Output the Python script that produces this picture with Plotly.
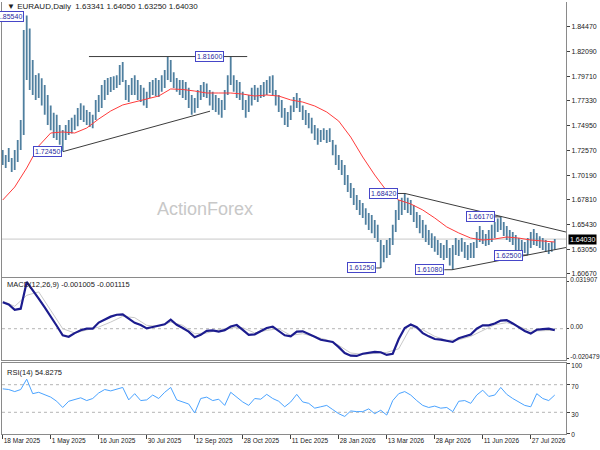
import plotly.graph_objects as go

# EURAUD daily, one entry per pair of sessions (high / low)
bar_high = [1.7260, 1.7212, 1.7280, 1.7183, 1.7260, 1.7357, 1.7549, 1.8415, 1.8554, 1.8430,
            1.8127, 1.7982, 1.8000, 1.7950, 1.7886, 1.7790, 1.7690, 1.7620, 1.7600, 1.7500,
            1.7453, 1.7500, 1.7549, 1.7570, 1.7600, 1.7665, 1.7710, 1.7690, 1.7645, 1.7626,
            1.7600, 1.7742, 1.7790, 1.7886, 1.7934, 1.7953, 1.7963, 1.7970, 1.7980, 1.8078,
            1.8107, 1.7934, 1.7886, 1.7953, 1.7980, 1.7934, 1.7886, 1.7860, 1.7820, 1.7915,
            1.7934, 1.7953, 1.7934, 1.7980, 1.8030, 1.8160, 1.8127, 1.8010, 1.7953, 1.7934,
            1.7934, 1.7915, 1.7860, 1.7790, 1.7760, 1.7838, 1.7886, 1.7915, 1.7900, 1.7838,
            1.7820, 1.7790, 1.7760, 1.7742, 1.7838, 1.7980, 1.8160, 1.7980, 1.7934, 1.7915,
            1.7820, 1.7742, 1.7790, 1.7860, 1.7886, 1.7860, 1.7886, 1.7915, 1.7934, 1.7970,
            1.7980, 1.7838, 1.7790, 1.7742, 1.7665, 1.7626, 1.7690, 1.7770, 1.7810, 1.7760,
            1.7690, 1.7645, 1.7616, 1.7570, 1.7500, 1.7470, 1.7453, 1.7470, 1.7453, 1.7470,
            1.7357, 1.7310, 1.7212, 1.7164, 1.7116, 1.7020, 1.6943, 1.6895, 1.6827, 1.6779,
            1.6750, 1.6700, 1.6654, 1.6635, 1.6587, 1.6540, 1.6394, 1.6346, 1.6394, 1.6413,
            1.6540, 1.6683, 1.6779, 1.6800, 1.6842, 1.6800, 1.6779, 1.6730, 1.6664, 1.6635,
            1.6587, 1.6540, 1.6490, 1.6460, 1.6430, 1.6394, 1.6365, 1.6346, 1.6394, 1.6317,
            1.6346, 1.6413, 1.6394, 1.6413, 1.6375, 1.6346, 1.6365, 1.6375, 1.6471, 1.6530,
            1.6490, 1.6452, 1.6490, 1.6540, 1.6568, 1.6600, 1.6617, 1.6568, 1.6530, 1.6490,
            1.6471, 1.6442, 1.6413, 1.6394, 1.6375, 1.6413, 1.6471, 1.6500, 1.6462, 1.6430,
            1.6413, 1.6394, 1.6365, 1.6375, 1.6405]
bar_low = [1.7116, 1.7087, 1.7145, 1.7049, 1.7068, 1.7145, 1.7260, 1.7405, 1.7934, 1.7838,
           1.7790, 1.7742, 1.7760, 1.7690, 1.7600, 1.7500, 1.7450, 1.7376, 1.7357, 1.7310,
           1.7245, 1.7357, 1.7405, 1.7420, 1.7453, 1.7490, 1.7549, 1.7530, 1.7500, 1.7482,
           1.7470, 1.7549, 1.7626, 1.7665, 1.7742, 1.7790, 1.7819, 1.7838, 1.7857, 1.7886,
           1.7915, 1.7742, 1.7722, 1.7790, 1.7790, 1.7742, 1.7722, 1.7690, 1.7665, 1.7760,
           1.7790, 1.7780, 1.7770, 1.7820, 1.7857, 1.7934, 1.7915, 1.7857, 1.7820, 1.7790,
           1.7760, 1.7742, 1.7665, 1.7600, 1.7620, 1.7665, 1.7742, 1.7770, 1.7760, 1.7690,
           1.7645, 1.7626, 1.7600, 1.7570, 1.7645, 1.7790, 1.7886, 1.7820, 1.7760, 1.7742,
           1.7645, 1.7570, 1.7626, 1.7690, 1.7742, 1.7722, 1.7760, 1.7770, 1.7790, 1.7810,
           1.7790, 1.7690, 1.7626, 1.7570, 1.7500, 1.7482, 1.7549, 1.7626, 1.7665, 1.7626,
           1.7549, 1.7500, 1.7470, 1.7420, 1.7357, 1.7310, 1.7338, 1.7357, 1.7328, 1.7338,
           1.7210, 1.7116, 1.7068, 1.7020, 1.6923, 1.6856, 1.6798, 1.6730, 1.6683, 1.6635,
           1.6606, 1.6540, 1.6490, 1.6460, 1.6413, 1.6375, 1.6125, 1.6180, 1.6220, 1.6250,
           1.6346, 1.6471, 1.6587, 1.6635, 1.6683, 1.6654, 1.6635, 1.6568, 1.6510, 1.6460,
           1.6413, 1.6375, 1.6346, 1.6317, 1.6280, 1.6250, 1.6220, 1.6202, 1.6220, 1.6150,
           1.6108, 1.6250, 1.6240, 1.6280, 1.6220, 1.6202, 1.6220, 1.6220, 1.6317, 1.6375,
           1.6356, 1.6336, 1.6346, 1.6375, 1.6413, 1.6471, 1.6490, 1.6433, 1.6394, 1.6375,
           1.6346, 1.6298, 1.6280, 1.6260, 1.6270, 1.6250, 1.6317, 1.6346, 1.6336, 1.6317,
           1.6298, 1.6280, 1.6260, 1.6280, 1.6300]

# moving average (red), every 8 sessions
ma_line = [1.6779, 1.6904, 1.7087, 1.7299, 1.7424, 1.7434, 1.7424, 1.7472, 1.7559, 1.7636,
           1.7694, 1.7722, 1.7751, 1.7780, 1.7848, 1.7843, 1.7828, 1.7809, 1.7809, 1.7809,
           1.7799, 1.7780, 1.7790, 1.7780, 1.7742, 1.7722, 1.7684, 1.7626, 1.7539, 1.7385,
           1.7193, 1.7020, 1.6866, 1.6779, 1.6741, 1.6683, 1.6606, 1.6520, 1.6462, 1.6413,
           1.6394, 1.6404, 1.6423, 1.6413, 1.6394, 1.6384, 1.6375]

# MACD main line, every 4 sessions
macd_main = [0.0180, 0.0165, 0.0128, 0.0136, 0.0318, 0.0265, 0.0205, 0.0145, 0.0085, 0.0020,
             -0.0045, -0.0055, -0.0030, -0.0010, 0.0000, 0.0000, 0.0042, 0.0062, 0.0082, 0.0095,
             0.0097, 0.0068, 0.0040, 0.0025, 0.0002, 0.0012, 0.0020, 0.0030, 0.0061, 0.0027,
             0.0005, -0.0020, -0.0058, -0.0042, -0.0015, -0.0011, -0.0020, -0.0010, 0.0015, 0.0025,
             -0.0008, -0.0042, -0.0038, -0.0018, 0.0005, 0.0014, -0.0015, -0.0045, -0.0052, -0.0020,
             -0.0018, -0.0035, -0.0055, -0.0075, -0.0085, -0.0090, -0.0125, -0.0165, -0.0183, -0.0185,
             -0.0170, -0.0163, -0.0158, -0.0160, -0.0178, -0.0170, -0.0070, 0.0005, 0.0028, 0.0010,
             -0.0030, -0.0052, -0.0070, -0.0074, -0.0080, -0.0090, -0.0065, -0.0052, -0.0040, 0.0000,
             0.0023, 0.0023, 0.0035, 0.0055, 0.0058, 0.0036, 0.0012, -0.0015, -0.0033, -0.0007,
             -0.0003, 0.0000, -0.0010]
# MACD signal line, every 8 sessions
macd_signal = [0.0188, 0.0152, 0.0227, 0.0250, 0.0125, 0.0000, -0.0029, -0.0011, 0.0011, 0.0045,
               0.0084, 0.0075, 0.0023, 0.0016, 0.0045, 0.0023, -0.0034, -0.0029, -0.0007, 0.0007,
               0.0007, -0.0029, -0.0011, 0.0000, -0.0045, -0.0034, -0.0052, -0.0075, -0.0113, -0.0165,
               -0.0174, -0.0165, -0.0161, -0.0136, 0.0011, -0.0007, -0.0052, -0.0079, -0.0075, -0.0052,
               -0.0011, 0.0027, 0.0041, 0.0016, -0.0016, -0.0011, -0.0011]

# RSI(14), every 4 sessions
rsi_vals = [64, 63, 60, 63, 78, 57, 59, 55, 52, 46,
            37, 46, 49, 51, 47, 50, 58, 63, 61, 63,
            66, 48, 57, 47, 48, 55, 50, 59, 66, 48,
            45, 42, 29, 50, 52, 47, 49, 40, 59, 52,
            45, 40, 50, 49, 56, 50, 46, 38, 45, 56,
            45, 43, 36, 38, 40, 34, 28, 24, 32, 31,
            31, 35, 28, 33, 26, 47, 57, 60, 55, 47,
            40, 37, 39, 36, 37, 31, 46, 47, 43, 55,
            62, 53, 55, 66, 56, 50, 45, 40, 38, 57,
            50, 47, 55]

date_labels = ["18 Mar 2025", "1 May 2025", "16 Jun 2025", "30 Jul 2025", "12 Sep 2025",
               "28 Oct 2025", "11 Dec 2025", "28 Jan 2026", "13 Mar 2026", "28 Apr 2026",
               "11 Jun 2026", "27 Jul 2026"]
price_ticks = [1.84470, 1.82090, 1.79710, 1.77330, 1.74950, 1.72570, 1.70190,
               1.67810, 1.65430, 1.63050, 1.60670]
macd_ticks = [0.031907, 0.0, -0.020479]
rsi_ticks = [100, 70, 30, 0]
last_price = 1.64030

FONT = "Liberation Sans"
XR = [-0.47, 375.5]

# bars as vertical segments
bx, by = [], []
for k, (h, l) in enumerate(zip(bar_high, bar_low)):
    bx += [2 * k, 2 * k, None]
    by += [l, h, None]

fig = go.Figure()
fig.add_trace(go.Scatter(x=bx, y=by, mode="lines", line=dict(color="#4f7f9f", width=1.8),
                         xaxis="x", yaxis="y", hoverinfo="skip"))
fig.add_trace(go.Scatter(x=list(range(0, 8 * len(ma_line), 8)), y=ma_line, mode="lines",
                         line=dict(color="#ff3b3b", width=1), xaxis="x", yaxis="y"))
fig.add_trace(go.Scatter(x=list(range(0, 8 * len(macd_signal), 8)), y=macd_signal, mode="lines",
                         line=dict(color="#c8c8c8", width=1), xaxis="x2", yaxis="y2"))
fig.add_trace(go.Scatter(x=list(range(0, 4 * len(macd_main), 4)), y=macd_main, mode="lines",
                         line=dict(color="#1c1c8e", width=2.2), xaxis="x2", yaxis="y2"))
fig.add_trace(go.Scatter(x=list(range(0, 4 * len(rsi_vals), 4)), y=rsi_vals, mode="lines",
                         line=dict(color="#4aa3ff", width=1), xaxis="x3", yaxis="y3"))

xdom = [0.00333, 0.94333]
axis_line = dict(showline=True, linecolor="#8a8a8a", linewidth=1, showgrid=False,
                 zeroline=False, automargin=False)
tickf = dict(family=FONT, size=7, color="#202020")
smallf = dict(family=FONT, size=6.5, color="#202020")

fig.update_layout(
    width=600, height=450, margin=dict(l=0, r=0, t=0, b=0, autoexpand=False),
    paper_bgcolor="white", plot_bgcolor="white", showlegend=False,
    xaxis=dict(domain=xdom, range=XR, anchor="y", showticklabels=False, **axis_line),
    yaxis=dict(domain=[0.38511, 0.99556], range=[1.6041, 1.8685], side="right", anchor="x",
               mirror=True, tickvals=price_ticks, ticktext=["%.5f" % v for v in price_ticks],
               ticks="outside", ticklen=3, tickcolor="#404040", tickfont=tickf, **axis_line),
    xaxis2=dict(domain=xdom, range=XR, anchor="y2", showticklabels=False, mirror=True, **axis_line),
    yaxis2=dict(domain=[0.19889, 0.38333], range=[-0.0216, 0.0348], side="right", anchor="x2",
                mirror=True, tickvals=macd_ticks, ticktext=["0.031907", "0.00", "-0.020479"],
                ticks="outside", ticklen=2, tickcolor="#404040", tickfont=smallf,
                ticklabelshift=-2, **axis_line),
    xaxis3=dict(domain=xdom, range=XR, anchor="y3", mirror=True,
                tickvals=list(range(0, 32 * len(date_labels), 32)), ticktext=date_labels,
                ticks="outside", ticklen=4, tickcolor="#404040", tickfont=smallf, tickangle=0,
                ticklabelposition="outside right", **axis_line),
    yaxis3=dict(domain=[0.03556, 0.19333], range=[-1.4, 101.4], side="right", anchor="x3",
                mirror=True, tickvals=rsi_ticks, ticktext=[str(v) for v in rsi_ticks],
                ticks="outside", ticklen=3, tickcolor="#404040", tickfont=smallf,
                ticklabelshift=2, **axis_line),
)

shapes = [
    dict(type="line", xref="x", yref="y", x0=XR[0], x1=XR[1], y0=last_price, y1=last_price,
         line=dict(color="#c8c8c8", width=1), layer="below"),
    dict(type="line", xref="x2", yref="y2", x0=XR[0], x1=XR[1], y0=0, y1=0,
         line=dict(color="#b4b4b4", width=1, dash="dot"), layer="below"),
    dict(type="line", xref="x3", yref="y3", x0=XR[0], x1=XR[1], y0=70, y1=70,
         line=dict(color="#b4b4b4", width=1, dash="dot"), layer="below"),
    dict(type="line", xref="x3", yref="y3", x0=XR[0], x1=XR[1], y0=30, y1=30,
         line=dict(color="#b4b4b4", width=1, dash="dot"), layer="below"),
]
# drawn trendlines
for x0, y0, x1, y1 in [(57.5, 1.8160, 163.0, 1.8160), (40.2, 1.7245, 138.2, 1.7634),
                       (268.2, 1.6842, 375.5, 1.6471), (299.5, 1.6108, 375.5, 1.6322),
                       (263.5, 1.6842, 268.2, 1.6842), (249.0, 1.6125, 252.0, 1.6125),
                       (294.4, 1.6108, 299.5, 1.6108), (328.2, 1.6617, 332.0, 1.6617),
                       (346.9, 1.6250, 350.0, 1.6250)]:
    shapes.append(dict(type="line", xref="x", yref="y", x0=x0, y0=y0, x1=x1, y1=y1,
                       line=dict(color="#3c3c3c", width=1)))
fig.update_layout(shapes=shapes)

ann = []
for txt, xr, yv in [("1.85540", 14.0, 1.8548), ("1.81600", 147.5, 1.8157), ("1.72450", 39.5, 1.7243),
                    ("1.68420", 263.5, 1.6842), ("1.66170", 328.2, 1.6624), ("1.61250", 249.0, 1.6125),
                    ("1.61080", 294.4, 1.6108), ("1.62500", 346.9, 1.6246)]:
    ann.append(dict(x=xr, y=yv, xref="x", yref="y", text=txt, showarrow=False, xanchor="right",
                    yanchor="middle", bgcolor="white", bordercolor="#4646c8", borderwidth=1,
                    borderpad=1, font=dict(family=FONT, size=7, color="#2a2aa0")))
ann += [
    dict(x=0.9467, y=last_price, xref="paper", yref="y", text="%.5f" % last_price, showarrow=False,
         xanchor="left", yanchor="middle", bgcolor="black", borderpad=1,
         font=dict(family=FONT, size=7, color="white")),
    dict(x=0.008, y=0.985, xref="paper", yref="paper", showarrow=False, xanchor="left",
         yanchor="middle", text="\u25BC EURAUD,Daily  1.63341 1.64050 1.63250 1.64030",
         font=dict(family=FONT, size=8, color="#202020")),
    dict(x=0.008, y=0.3667, xref="paper", yref="paper", showarrow=False, xanchor="left",
         yanchor="middle", text="MACD(12,26,9) -0.001005 -0.001115",
         font=dict(family=FONT, size=7.5, color="#202020")),
    dict(x=0.008, y=0.1733, xref="paper", yref="paper", showarrow=False, xanchor="left",
         yanchor="middle", text="RSI(14) 54.8275",
         font=dict(family=FONT, size=7.5, color="#202020")),
    dict(x=0.341, y=0.5356, xref="paper", yref="paper", showarrow=False, text="ActionForex",
         font=dict(family=FONT, size=18, color="#c8c8c8")),
]
fig.update_layout(annotations=ann)

# the page's default body margin would shift the figure
fig.write_html("out.html", config={"displayModeBar": False},
               post_script="document.body.style.margin='0';")
